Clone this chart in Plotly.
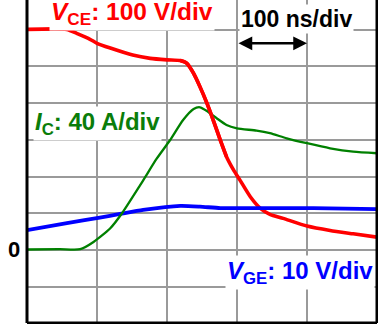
import numpy as np
import plotly.graph_objects as go

# Time base (ns) and channel traces, in physical units
t_vce = [0, 57, 71, 90, 100, 119, 151, 176, 200, 219, 228, 238, 247, 257, 266,
         276, 285, 295, 304, 319, 333, 347, 366, 400, 433, 466, 500]
vce = [601, 601, 590, 574, 563, 550, 531, 522, 518, 516, 509, 481, 445, 400, 354,
       300, 254, 218, 191, 145, 114, 97, 86, 65, 53, 44, 35]

t_ic = [0, 47, 76, 95, 119, 136, 161, 169, 185, 204, 223, 238, 247, 257, 271,
        285, 300, 328, 347, 371, 400, 433, 466, 500]
ic = [0.5, 0.8, 0.8, 8.7, 23.7, 40.3, 69.8, 79.6, 99.2, 119.3, 141.7, 153.7, 155.5,
      151.5, 143.5, 136.2, 132.6, 130.0, 127.2, 121.7, 116.3, 110.8, 107.1, 105.4]

t_vge = [0, 57, 104, 133, 166, 219, 247, 276, 304, 409, 500]
vge = [5.4, 7.3, 8.8, 9.8, 10.9, 12.0, 11.8, 11.4, 11.4, 11.4, 11.1]

# Vertical sensitivities
VCE_PER_DIV = 100   # V/div
IC_PER_DIV = 40     # A/div
VGE_PER_DIV = 10    # V/div
NS_PER_DIV = 100

RED = "#ff0000"
GREEN = "#008000"
BLUE = "#0000ff"
FONT = "Liberation Sans, Arial, sans-serif"

vce_div = np.array(vce) / VCE_PER_DIV
ic_div = np.array(ic) / IC_PER_DIV
vge_div = np.array(vge) / VGE_PER_DIV

fig = go.Figure()
fig.add_trace(go.Scatter(x=t_vce, y=vce_div, mode="lines",
                         line=dict(color=RED, width=3.6, shape="spline", smoothing=0.6)))
fig.add_trace(go.Scatter(x=t_vge, y=vge_div, mode="lines",
                         line=dict(color=BLUE, width=3.8, shape="spline", smoothing=0.6)))
fig.add_trace(go.Scatter(x=t_ic, y=ic_div, mode="lines",
                         line=dict(color=GREEN, width=2.3, shape="spline", smoothing=0.6)))
# V_CE fall section redrawn so it passes over the I_C peak
sel = slice(9, 17)
fig.add_trace(go.Scatter(x=t_vce[sel], y=vce_div[sel], mode="lines",
                         line=dict(color=RED, width=3.6, shape="spline", smoothing=0.6)))

y_lo, y_hi = -1.99, 6.81
grid = dict(showgrid=True, gridcolor="#9a9a9a", gridwidth=1.5, zeroline=False,
            showticklabels=False, ticks="", showline=False)
fig.update_xaxes(range=[0, 5 * NS_PER_DIV], dtick=NS_PER_DIV, **grid)
fig.update_yaxes(range=[y_lo, y_hi], dtick=1, tick0=0, **grid)

# Frame: left, bottom and right edges
for x0, y0, x1, y1 in [(0, 0, 0, 1), (0, 0, 1, 0), (1, 0, 1, 1)]:
    fig.add_shape(type="line", xref="paper", yref="paper", x0=x0, y0=y0, x1=x1, y1=y1,
                  line=dict(color="black", width=3))


def label(text, x, y, color, xanchor="left", bg="white", size=24, xref="x", pad=1):
    fig.add_annotation(text=text, x=x, y=y, xref=xref, yref="y", xanchor=xanchor,
                       yanchor="middle", showarrow=False, bgcolor=bg, borderpad=pad,
                       font=dict(family=FONT, size=size, color=color))


label("<b><i>V</i><sub>CE</sub>: 100 V/div</b>", 31, 6.43, RED, size=24.5)
label("<b>100 ns/div</b>", 303, 6.3, "black", size=23)
label("<b><i>I</i><sub>C</sub>: 40 A/div</b>", 9, 3.45, "#0a7d0a")
label("<b><i>V</i><sub>GE</sub>: 10 V/div</b>", 283, -0.62, BLUE)
label("<b>0</b>", -0.037, 0, "black", xanchor="center", bg="rgba(0,0,0,0)", size=22,
      xref="paper")

# Time-scale arrow spanning one division
fig.add_annotation(x=4 * NS_PER_DIV, y=5.63, ax=3 * NS_PER_DIV, ay=5.63,
                   xref="x", yref="y", axref="x", ayref="y", text="",
                   showarrow=True, arrowside="end+start", arrowhead=2,
                   arrowsize=1.1, arrowwidth=2.5, arrowcolor="black",
                   standoff=0, startstandoff=0)

fig.update_layout(width=378, height=324, margin=dict(l=27, r=1, t=0, b=1),
                  paper_bgcolor="white", plot_bgcolor="white", showlegend=False)

fig.write_html("out.html")
